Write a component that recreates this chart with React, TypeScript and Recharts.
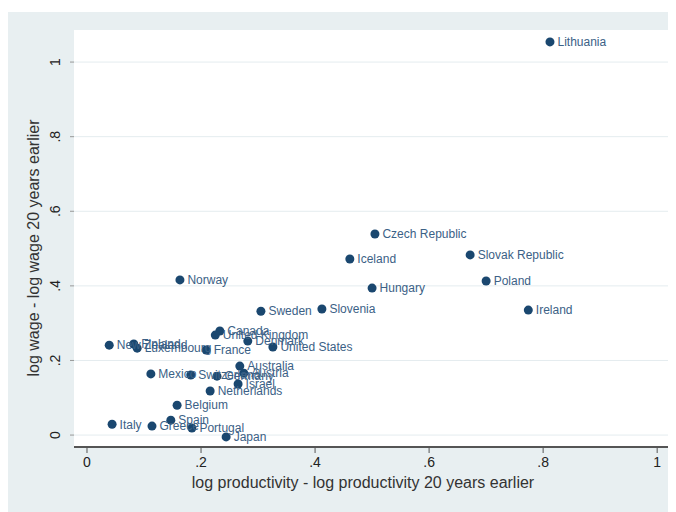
import React from 'react';
import { ScatterChart, Scatter, XAxis, YAxis, CartesianGrid, LabelList, Label } from 'recharts';

const countries = [
  'Lithuania', 'Czech Republic', 'Slovak Republic', 'Iceland', 'Poland', 'Hungary', 'Ireland',
  'Slovenia', 'Sweden', 'Norway', 'Canada', 'United Kingdom', 'Finland', 'Denmark', 'United States',
  'New Zealand', 'Luxembourg', 'France', 'Mexico', 'Switzerland', 'Germany', 'Australia', 'Austria',
  'Israel', 'Netherlands', 'Belgium', 'Italy', 'Greece', 'Spain', 'Portugal', 'Japan',
];
const productivityGrowth = [
  0.812, 0.505, 0.672, 0.461, 0.700, 0.500, 0.774,
  0.412, 0.305, 0.163, 0.233, 0.225, 0.082, 0.282, 0.326,
  0.039, 0.088, 0.209, 0.112, 0.182, 0.228, 0.268, 0.275,
  0.265, 0.216, 0.158, 0.044, 0.114, 0.147, 0.184, 0.244,
];
const wageGrowth = [
  1.054, 0.539, 0.483, 0.472, 0.413, 0.394, 0.335,
  0.338, 0.332, 0.416, 0.279, 0.268, 0.244, 0.252, 0.236,
  0.241, 0.233, 0.228, 0.164, 0.161, 0.158, 0.185, 0.166,
  0.137, 0.118, 0.080, 0.029, 0.024, 0.040, 0.019, -0.005,
];
const tickValues = [0, 0.2, 0.4, 0.6, 0.8, 1];
const tickLabels = ['0', '.2', '.4', '.6', '.8', '1'];
const xTitle = 'log productivity - log productivity 20 years earlier';
const yTitle = 'log wage - log wage 20 years earlier';

const data = countries.map((name, i) => ({ name, x: productivityGrowth[i], y: wageGrowth[i] }));

const FONT = 'Arial, "Liberation Sans", Helvetica, sans-serif';
const NAVY = '#1a476f';

const fmt = (v: number) => {
  const i = tickValues.findIndex((t) => Math.abs(t - v) < 1e-9);
  return i >= 0 ? tickLabels[i] : String(v);
};

const YTick = (props: any) => {
  const { x, y, payload } = props;
  return (
    <text
      x={x}
      y={y}
      transform={`rotate(-90, ${x}, ${y})`}
      textAnchor="middle"
      fontSize={14}
      fontFamily={FONT}
      fill="#222"
    >
      {fmt(payload.value)}
    </text>
  );
};

const Dot = (props: any) => {
  const { cx, cy } = props;
  return <circle cx={cx} cy={cy} r={4.5} fill={NAVY} />;
};

export default function App() {
  return (
    <div style={{ marginTop: 4, width: 668, height: 500, background: '#e8eff1' }}>
      <ScatterChart width={668} height={500} margin={{ top: 18, right: 8, left: 0, bottom: 0 }}>
        <CartesianGrid vertical={false} fill="#ffffff" fillOpacity={1} stroke="#e4ecef" strokeWidth={1} horizontalValues={tickValues} />
        <XAxis
          type="number"
          dataKey="x"
          domain={[-0.0228, 1.019]}
          ticks={tickValues}
          tickFormatter={fmt}
          allowDataOverflow
          height={65}
          axisLine={{ stroke: '#555', strokeWidth: 2 }}
          tickLine={{ stroke: '#555' }}
          tickSize={6}
          tickMargin={4}
          tick={{ fontSize: 14, fontFamily: FONT, fill: '#222' }}
        >
          <Label
            content={() => (
              <text x={355} y={476} textAnchor="middle" fontSize={16} fontFamily={FONT} fill="#333">
                {xTitle}
              </text>
            )}
          />
        </XAxis>
        <YAxis
          type="number"
          dataKey="y"
          domain={[-0.032, 1.086]}
          ticks={tickValues}
          allowDataOverflow
          width={66}
          axisLine={false}
          tickLine={{ stroke: '#999' }}
          tickSize={4}
          tickMargin={10}
          tick={<YTick />}
        >
          <Label
            content={() => (
              <text
                x={31}
                y={236}
                transform="rotate(-90, 31, 236)"
                textAnchor="middle"
                fontSize={16}
                fontFamily={FONT}
                fill="#333"
              >
                {yTitle}
              </text>
            )}
          />
        </YAxis>
        <Scatter data={data} shape={<Dot />} isAnimationActive={false}>
          <LabelList
            dataKey="name"
            position="right"
            offset={3}
            fill="#3b6186"
            fontSize={12}
            fontFamily={FONT}
          />
        </Scatter>
      </ScatterChart>
    </div>
  );
}
